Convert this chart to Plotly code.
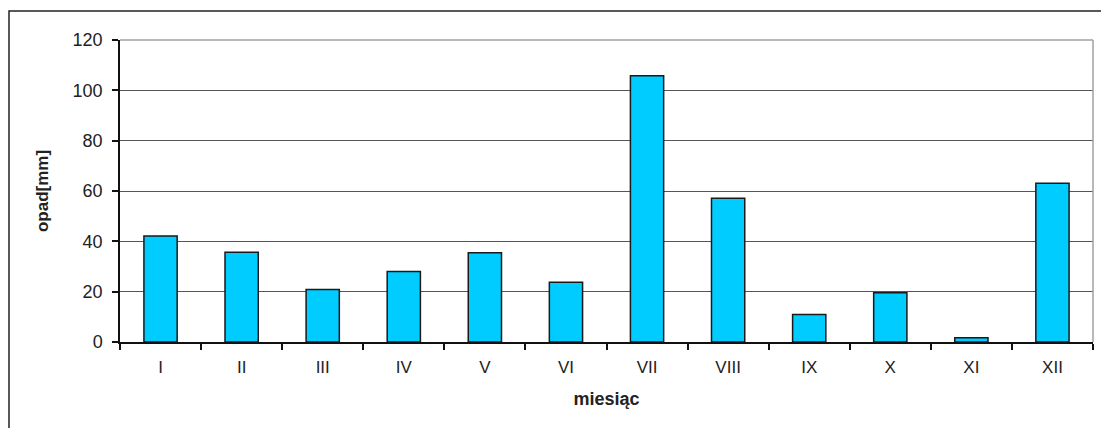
import plotly.graph_objects as go

# Monthly precipitation
months = ["I", "II", "III", "IV", "V", "VI", "VII", "VIII", "IX", "X", "XI", "XII"]
opad = [42.1, 35.7, 20.9, 28.0, 35.5, 23.7, 105.8, 57.1, 10.9, 19.6, 1.7, 63.1]
y_ticks = [0, 20, 40, 60, 80, 100, 120]

W, H = 1101, 428
ML, MR, MT, MB = 120, 8, 40, 86
pw, ph = W - ML - MR, H - MT - MB

fig = go.Figure(
    go.Bar(
        x=months,
        y=opad,
        marker=dict(color="#00CCFF", line=dict(color="#1a1a1a", width=1.5)),
        width=0.41,
    )
)

font = dict(family="Liberation Sans, Arial, sans-serif", size=17, color="#222222")

fig.update_layout(
    width=W,
    height=H,
    margin=dict(l=ML, r=MR, t=MT, b=MB),
    paper_bgcolor="white",
    plot_bgcolor="white",
    showlegend=False,
    font=font,
    xaxis=dict(
        type="category",
        showline=True,
        linecolor="#111111",
        linewidth=1.5,
        ticks="outside",
        ticklen=6,
        tickwidth=1.5,
        tickcolor="#111111",
        tickson="boundaries",
        showgrid=False,
        tickfont=dict(size=17),
        ticklabelstandoff=9,
        title=dict(text="<b>miesiąc</b>", font=dict(size=18), standoff=16),
    ),
    yaxis=dict(
        range=[0, 120],
        tickvals=y_ticks,
        showline=True,
        linecolor="#111111",
        linewidth=1.5,
        ticks="outside",
        ticklen=6,
        tickwidth=1.5,
        tickcolor="#111111",
        showgrid=True,
        gridcolor="#555555",
        gridwidth=1.2,
        zeroline=False,
        tickfont=dict(size=18),
        ticklabelstandoff=6,
        title=dict(text="<b>opad[mm]</b>", font=dict(size=17), standoff=20),
    ),
    shapes=[
        # plot-area frame (top and right edges)
        dict(type="line", xref="paper", yref="paper", x0=0, x1=1, y0=1, y1=1,
             line=dict(color="#a0a0a0", width=1.5), layer="above"),
        dict(type="line", xref="paper", yref="paper", x0=1, x1=1, y0=0, y1=1,
             line=dict(color="#a0a0a0", width=1.5), layer="above"),
        # outer chart border
        dict(type="rect", xref="paper", yref="paper",
             x0=(9 - ML) / pw, x1=(W + 5 - ML) / pw,
             y0=(MT + ph - (H + 5)) / ph, y1=(MT + ph - 11) / ph,
             line=dict(color="#222222", width=1.5), layer="above"),
    ],
)

fig.write_html("out.html")
